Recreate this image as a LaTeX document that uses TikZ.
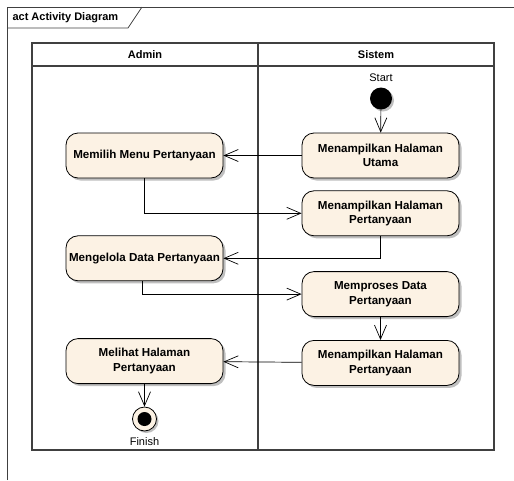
\documentclass[tikz,border=0pt]{standalone}
\usepackage{fontspec}
\setmainfont{Liberation Sans}
\usetikzlibrary{arrows.meta,positioning,shadows}
\definecolor{adcream}{RGB}{252,242,228}
\definecolor{adline}{RGB}{64,64,64}
\tikzset{
  adaction/.style={
    draw=black,
    fill=adcream,
    rounded corners=12pt,
    align=center,
    minimum width=157pt,
    minimum height=45pt,
    inner xsep=1pt,
    font=\fontsize{11.6}{14.5}\selectfont\bfseries,
    line width=0.8pt,
    drop shadow={shadow xshift=2.5pt, shadow yshift=-2.5pt, fill=black, opacity=0.25}
  },
  adflow/.style={-{Straight Barb[length=14pt,width=12pt]}, line width=0.7pt},
  adlane/.style={draw=adline, line width=1.2pt},
  adhead/.style={font=\fontsize{11}{12}\selectfont\bfseries},
  adlabel/.style={font=\fontsize{11}{12}\selectfont, inner sep=0pt}
}

\begin{document}
\begin{tikzpicture}[x=1pt, y=-1pt, node distance=57pt and 0pt]
\useasboundingbox (0,0) rectangle (514,480);
% frame and title tab
\draw[adline, line width=0.8pt] (7,480) -- (7,7) -- (514,7);
\draw[adline, line width=0.8pt] (7,28) -- (128,28) -- (142,7);
\node[adhead, anchor=west] (title) at (9,17.5) {act Activity Diagram};
% swimlanes
\draw[adlane] (32,43) rectangle (494,450);
\draw[adlane] (32,66) -- (494,66);
\draw[adlane] (258,43) -- (258,450);
\node[adhead] (admin) at (145,54.5) {Admin};
\node[adhead] (sistem) at (376,54.5) {Sistem};
% admin lane
\node[adaction] (memilih) at (144.5,155.5) {Memilih Menu Pertanyaan};
\node[adaction, below=of memilih] (mengelola) {Mengelola Data Pertanyaan};
\node[adaction, below=of mengelola] (melihat) {Melihat Halaman\\Pertanyaan};
% sistem lane
\node[adaction] (utama) at (380.5,155.5) {Menampilkan Halaman\\Utama};
\node[adaction, below=12pt of utama] (halaman) {Menampilkan Halaman\\Pertanyaan};
\node[adaction, below=35pt of halaman] (memproses) {Memproses Data\\Pertanyaan};
\node[adaction, below=23pt of memproses] (tampil) {Menampilkan Halaman\\Pertanyaan};
% start / finish
\node[circle, fill=black, minimum size=22pt, inner sep=0pt,
  drop shadow={shadow xshift=2pt, shadow yshift=-2pt, fill=black, opacity=0.25}] (start) at (381,98.5) {};
\node[adlabel, above=5pt of start] (startlabel) {Start};
\node[circle, draw=black, fill=adcream, minimum size=24pt, inner sep=0pt, line width=0.8pt,
  drop shadow={shadow xshift=2pt, shadow yshift=-2pt, fill=black, opacity=0.25}] (finish) at (144.5,419) {};
\node[circle, fill=black, minimum size=14pt, inner sep=0pt] (finishdot) at (finish.center) {};
\node[adlabel, below=6pt of finish] (finishlabel) {Finish};
% flows
\draw[adflow] (start) -- (utama);
\draw[adflow] (utama) -- (memilih);
\draw[adflow] (memilih.south) |- (halaman.west);
\draw[adflow] (halaman.south) |- (mengelola.east);
\draw[adflow] ([xshift=-2.5pt]mengelola.south) |- (memproses.west);
\draw[adflow] (memproses) -- (tampil);
\draw[adflow] (tampil) -- (melihat);
\draw[adflow] (melihat) -- (finish);
\end{tikzpicture}
\end{document}
